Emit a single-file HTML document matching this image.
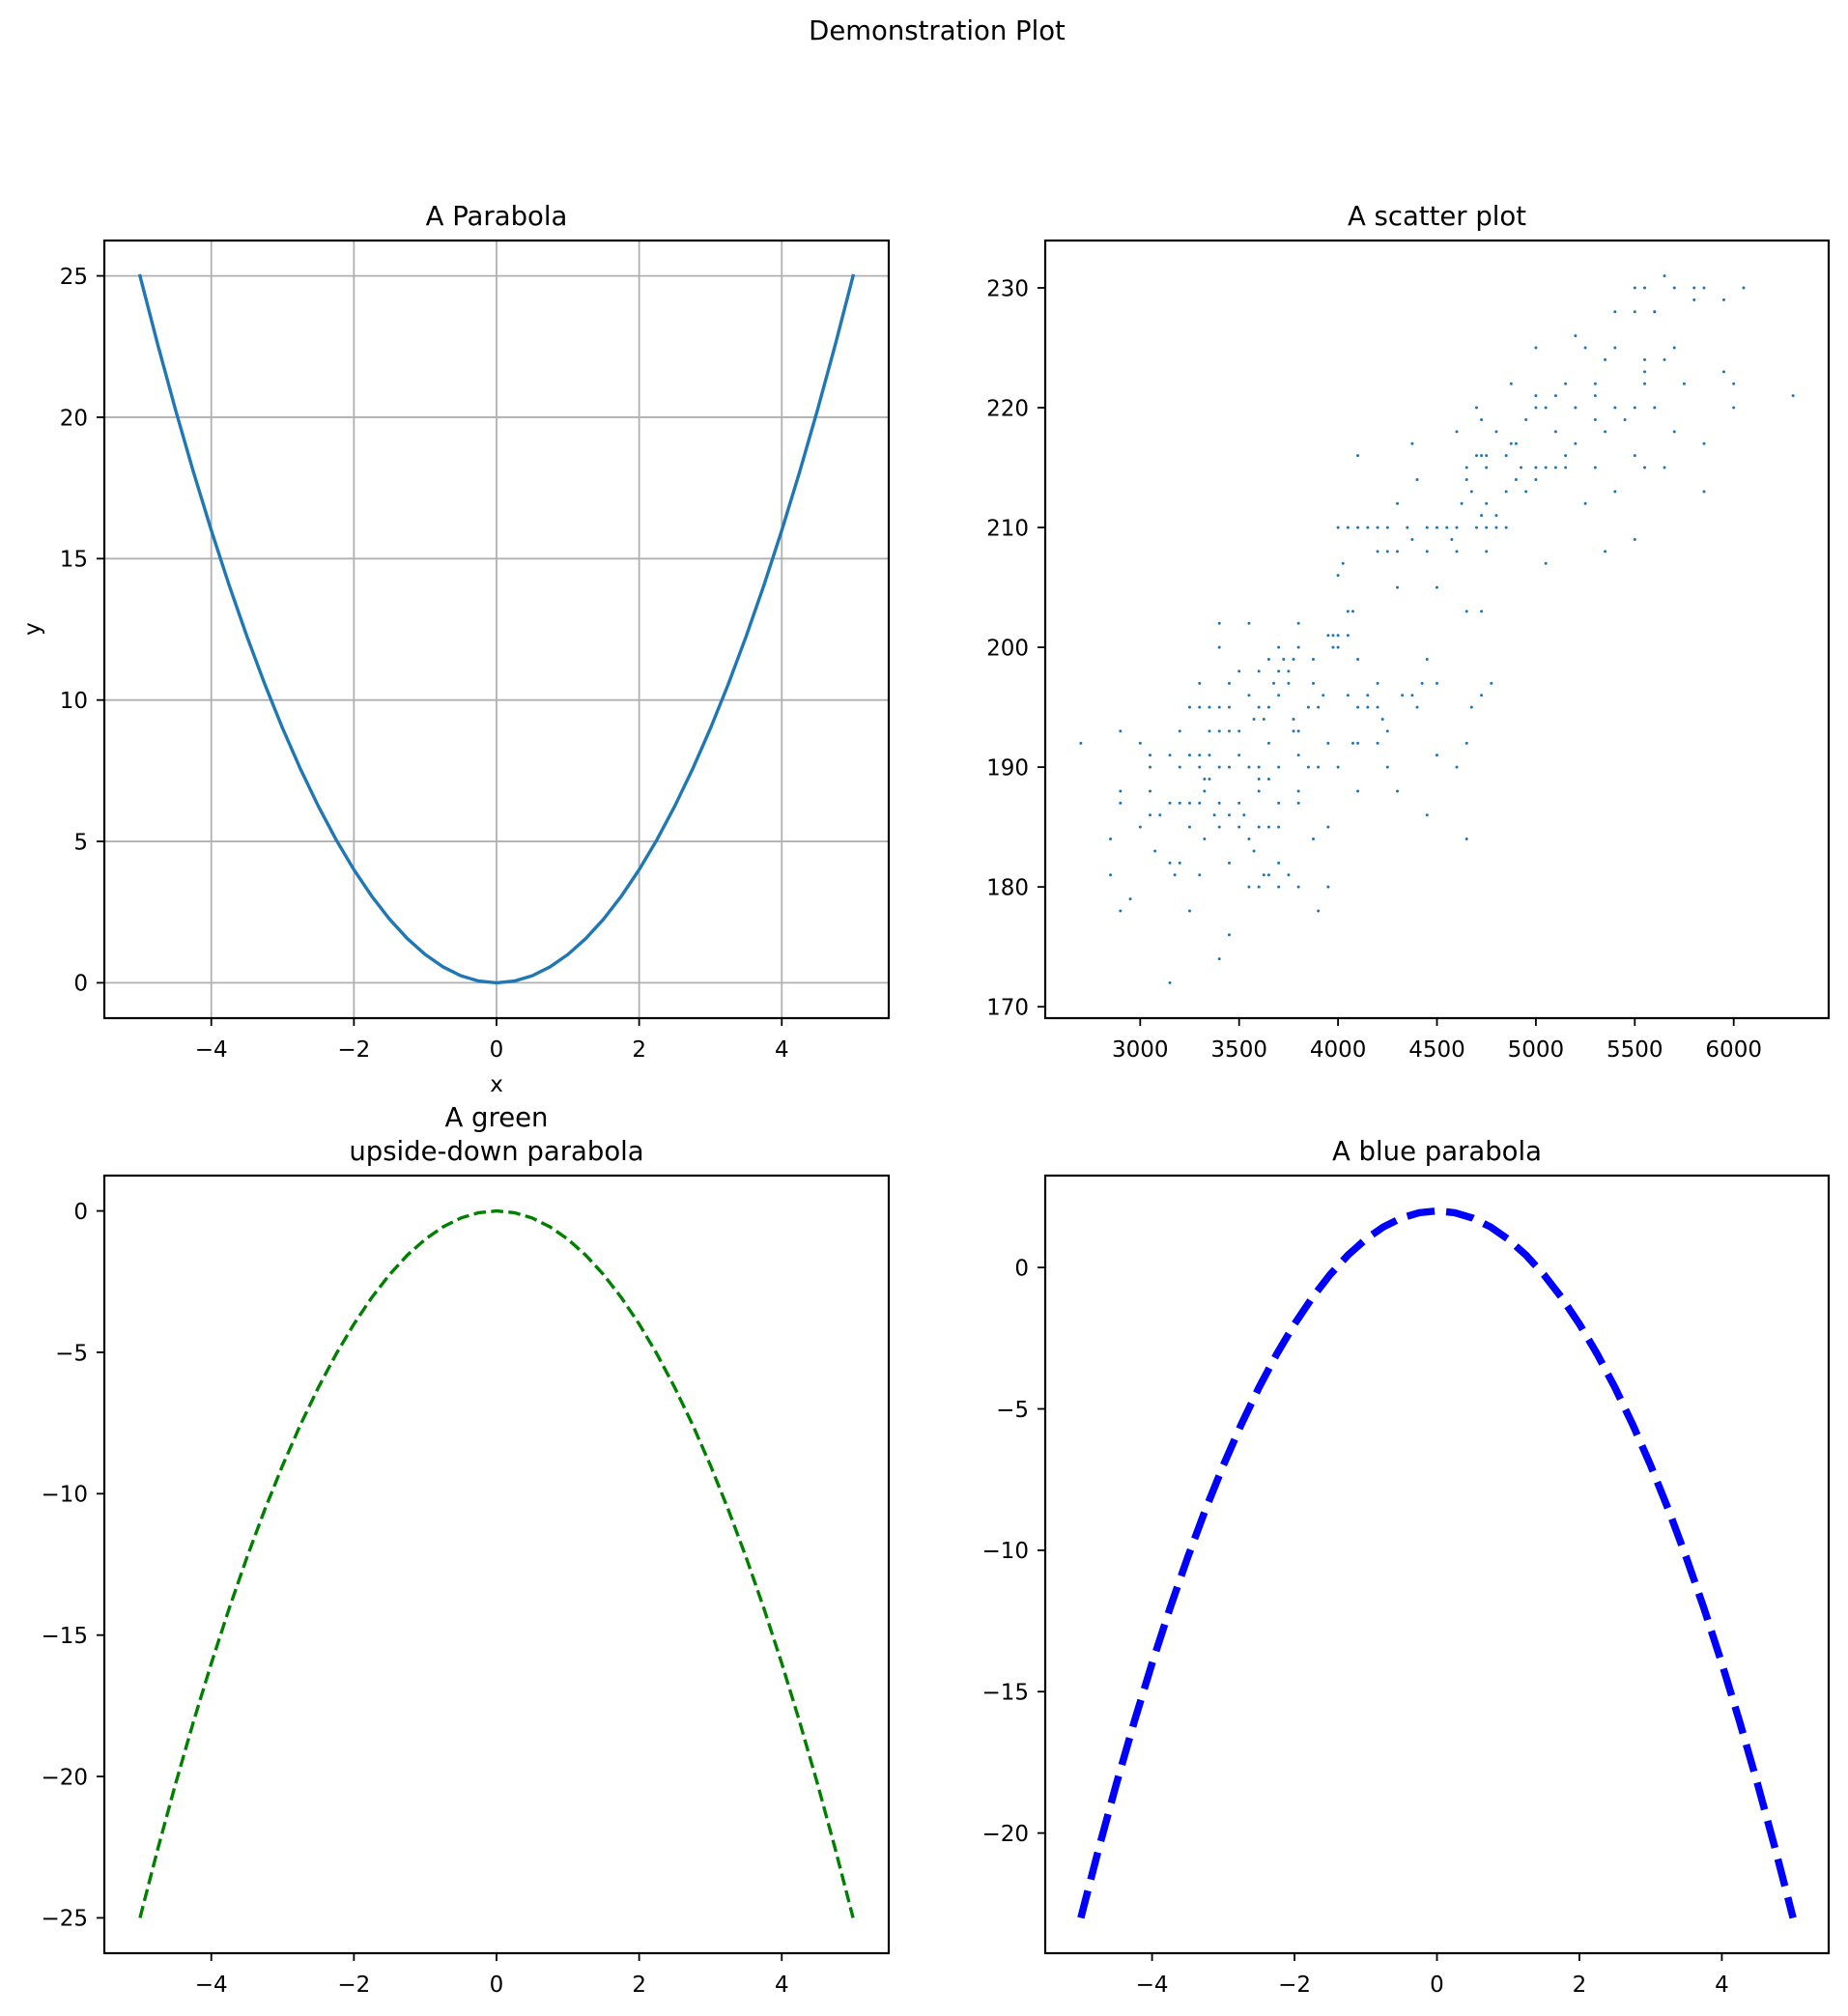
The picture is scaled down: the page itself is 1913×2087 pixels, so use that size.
<!DOCTYPE html>
<html><head><meta charset="utf-8">
<style>
html,body{margin:0;padding:0;background:#fff;}
svg{display:block;font-family:"DejaVu Sans","Liberation Sans",sans-serif;}
</style></head>
<body>
<svg id="fig" width="1913" height="2087" viewBox="0 0 1913 2087" xmlns="http://www.w3.org/2000/svg">
<rect width="1913" height="2087" fill="#fff"/>
<text x="970" y="41" font-size="27.5" text-anchor="middle">Demonstration Plot</text>
</svg>
<script>
// ---------- data ----------
const parabolaX = [-5,-4.75,-4.5,-4.25,-4,-3.75,-3.5,-3.25,-3,-2.75,-2.5,-2.25,-2,-1.75,-1.5,-1.25,-1,-0.75,-0.5,-0.25,0,0.25,0.5,0.75,1,1.25,1.5,1.75,2,2.25,2.5,2.75,3,3.25,3.5,3.75,4,4.25,4.5,4.75,5];
const parabolaY = [25,22.5625,20.25,18.0625,16,14.0625,12.25,10.5625,9,7.5625,6.25,5.0625,4,3.0625,2.25,1.5625,1,0.5625,0.25,0.0625,0,0.0625,0.25,0.5625,1,1.5625,2.25,3.0625,4,5.0625,6.25,7.5625,9,10.5625,12.25,14.0625,16,18.0625,20.25,22.5625,25];
const greenY = [-25,-22.5625,-20.25,-18.0625,-16,-14.0625,-12.25,-10.5625,-9,-7.5625,-6.25,-5.0625,-4,-3.0625,-2.25,-1.5625,-1,-0.5625,-0.25,-0.0625,0,-0.0625,-0.25,-0.5625,-1,-1.5625,-2.25,-3.0625,-4,-5.0625,-6.25,-7.5625,-9,-10.5625,-12.25,-14.0625,-16,-18.0625,-20.25,-22.5625,-25];
const blueY = [-23,-20.5625,-18.25,-16.0625,-14,-12.0625,-10.25,-8.5625,-7,-5.5625,-4.25,-3.0625,-2,-1.0625,-0.25,0.4375,1,1.4375,1.75,1.9375,2,1.9375,1.75,1.4375,1,0.4375,-0.25,-1.0625,-2,-3.0625,-4.25,-5.5625,-7,-8.5625,-10.25,-12.0625,-14,-16.0625,-18.25,-20.5625,-23];
const scatterX = [5650,5500,5550,5700,5800,5850,6050,5800,5950,5400,5500,5600,5600,5200,5000,5250,5400,5700,5350,5550,5650,5550,5950,4875,5300,5150,5550,5750,6000,5000,5100,5300,6300,4700,5000,5050,5200,5400,5500,5600,6000,4725,4950,5300,5450,4600,4800,5100,5350,5700,4375,4875,4900,5200,5850,4100,4700,4725,4750,4850,5150,5500,4650,4750,4925,5000,5050,5100,5150,5300,5550,5650,4400,4650,4900,5000,4675,4850,4950,5400,5850,4300,4625,4750,5250,4725,4800,4000,4050,4100,4150,4200,4250,4350,4450,4500,4550,4600,4700,4750,4800,4850,4375,4575,5500,4250,4200,4300,4450,4600,4750,5350,4025,5050,4000,4300,4500,4050,4075,4650,4725,3800,3400,3550,3950,4000,4050,3975,3400,3700,3800,3975,4000,3650,3725,3775,3875,4100,4450,3500,3700,3750,3600,3300,3450,3675,3750,3875,4200,4425,4500,4775,3550,3700,3925,4050,4150,4325,4375,4725,3250,3300,3350,3400,3450,3600,3650,3850,3900,4100,4150,4200,4400,4675,3575,3625,3775,4225,2900,3200,3350,3400,3450,3500,3775,3800,4250,2700,3000,3650,3950,4075,4100,4200,4650,3050,3150,3250,3300,3350,3500,3800,4500,3050,3200,3300,3400,3450,3550,3600,3700,3850,3900,4000,4250,4600,3325,3350,3600,3650,2900,3050,3325,3600,3800,4100,4300,2900,3150,3200,3250,3300,3400,3500,3700,3800,3050,3100,3375,3450,3525,4450,3000,3250,3400,3500,3600,3650,3700,3950,2850,3325,3550,3875,4650,3075,3575,3150,3200,3450,3700,2850,3175,3300,3625,3650,3750,3550,3600,3700,3800,3950,2950,2900,3250,3900,3450,3400,3150];
const scatterY = [231,230,230,230,230,230,230,229,229,228,228,228,228,226,225,225,225,225,224,224,224,223,223,222,222,222,222,222,222,221,221,221,221,220,220,220,220,220,220,220,220,219,219,219,219,218,218,218,218,218,217,217,217,217,217,216,216,216,216,216,216,216,215,215,215,215,215,215,215,215,215,215,214,214,214,214,213,213,213,213,213,212,212,212,212,211,211,210,210,210,210,210,210,210,210,210,210,210,210,210,210,210,209,209,209,208,208,208,208,208,208,208,207,207,206,205,205,203,203,203,203,202,202,202,201,201,201,201,200,200,200,200,200,199,199,199,199,199,199,198,198,198,198,197,197,197,197,197,197,197,197,197,196,196,196,196,196,196,196,196,195,195,195,195,195,195,195,195,195,195,195,195,195,195,194,194,194,194,193,193,193,193,193,193,193,193,193,192,192,192,192,192,192,192,192,191,191,191,191,191,191,191,191,190,190,190,190,190,190,190,190,190,190,190,190,190,189,189,189,189,188,188,188,188,188,188,188,187,187,187,187,187,187,187,187,187,186,186,186,186,186,186,185,185,185,185,185,185,185,185,184,184,184,184,184,183,183,182,182,182,182,181,181,181,181,181,181,180,180,180,180,180,179,178,178,178,176,174,172];
const parabolaXTicks = [-4,-2,0,2,4];
const parabolaYTicks = [0,5,10,15,20,25];
const scatterXTicks = [3000,3500,4000,4500,5000,5500,6000];
const scatterYTicks = [170,180,190,200,210,220,230];
const greenYTicks = [-25,-20,-15,-10,-5,0];
const blueYTicks = [-20,-15,-10,-5,0];

// ---------- drawing ----------
const NS = "http://www.w3.org/2000/svg";
const svg = document.getElementById("fig");
function mk(tag, attrs, parent){
  const e = document.createElementNS(NS, tag);
  for (const k in attrs) e.setAttribute(k, attrs[k]);
  (parent||svg).appendChild(e);
  return e;
}
function fmt(v){ return v < 0 ? "\u2212" + Math.abs(v) : String(v); }
function makeAxes(cfg){
  const g = mk("g", {});
  
  
  const sx = v => cfg.l + (v - cfg.x0) / (cfg.x1 - cfg.x0) * cfg.w;
  const sy = v => cfg.t + cfg.h - (v - cfg.y0) / (cfg.y1 - cfg.y0) * cfg.h;
  cfg.sx = sx; cfg.sy = sy; cfg.g = g;
  const b = cfg.t + cfg.h;
  if (cfg.grid){
    cfg.xt.forEach(v => {
      const l = mk("line", {x1:sx(v), x2:sx(v), y1:cfg.t, y2:b, stroke:"#b0b0b0", "stroke-width":1.8}, g);
      
      
    });
    cfg.yt.forEach(v => {
      const l = mk("line", {x1:cfg.l, x2:cfg.l+cfg.w, y1:sy(v), y2:sy(v), stroke:"#b0b0b0", "stroke-width":1.8}, g);
      
      
    });
  }
  cfg.xt.forEach(v => {
    const x = sx(v);
    const tk = mk("line", {x1:x, x2:x, y1:b, y2:b+8, stroke:"#000", "stroke-width":1.8}, g);
    
    
    const t = mk("text", {x:x, y:b+40, "font-size":23, "text-anchor":"middle"}, g);
    
    
    t.textContent = fmt(v);
  });
  cfg.yt.forEach(v => {
    const y = sy(v);
    const tk = mk("line", {x1:cfg.l-8, x2:cfg.l, y1:y, y2:y, stroke:"#000", "stroke-width":1.8}, g);
    
    
    const t = mk("text", {x:cfg.l-17, y:y+8.3, "font-size":23, "text-anchor":"end"}, g);
    
    
    t.textContent = fmt(v);
  });
  return cfg;
}
function frame(cfg){
  const r = mk("rect", {x:cfg.l, y:cfg.t, width:cfg.w, height:cfg.h, fill:"none", stroke:"#000", "stroke-width":2.2}, cfg.g);
  
  
}
function line(cfg, xs, ys, style, name){
  const d = xs.map((x,i)=>(i?"L":"M")+cfg.sx(x).toFixed(2)+","+cfg.sy(ys[i]).toFixed(2)).join("");
  const p = mk("path", Object.assign({d:d, fill:"none", "stroke-linejoin":"round"}, style), cfg.g);
  
  
}
function title(cfg, lines, name){
  lines.forEach((s,i)=>{
    const t = mk("text", {x:cfg.l+cfg.w/2, y:cfg.t-16-(lines.length-1-i)*35, "font-size":27.5, "text-anchor":"middle"}, cfg.g);
    
    
    t.textContent = s;
  });
}

// Top-left
const a1 = makeAxes({name:"parabola-axes", l:108, t:249, w:812, h:805, x0:-5.5, x1:5.5, y0:-1.25, y1:26.25, xt:parabolaXTicks, yt:parabolaYTicks, grid:true});
line(a1, parabolaX, parabolaY, {stroke:"#1f77b4", "stroke-width":3.4, "stroke-linecap":"square"}, "parabola-line");
frame(a1);
title(a1, ["A Parabola"], "parabola-title");
const xl = mk("text", {x:514, y:1130, "font-size":23, "text-anchor":"middle"}, a1.g);


xl.textContent = "x";
const yl = mk("text", {x:0, y:0, "font-size":23, "text-anchor":"middle", transform:"translate(41,651) rotate(-90)"}, a1.g);


yl.textContent = "y";

// Top-right scatter
const a2 = makeAxes({name:"scatter-axes", l:1082, t:249, w:811, h:805, x0:2520, x1:6480, y0:169.05, y1:233.95, xt:scatterXTicks, yt:scatterYTicks, grid:false});
scatterX.forEach((x,i)=>{
  const c = mk("circle", {cx:a2.sx(x).toFixed(2), cy:a2.sy(scatterY[i]).toFixed(2), r:1.5, fill:"#1f77b4"}, a2.g);
  
  
});
frame(a2);
title(a2, ["A scatter plot"], "scatter-title");

// Bottom-left
const a3 = makeAxes({name:"green-parabola-axes", l:108, t:1217, w:812, h:805, x0:-5.5, x1:5.5, y0:-26.25, y1:1.25, xt:parabolaXTicks, yt:greenYTicks, grid:false});
line(a3, parabolaX, greenY, {stroke:"#008000", "stroke-width":3.4, "stroke-dasharray":"12.6,5.4"}, "green-dashed-line");
frame(a3);
title(a3, ["A green","upside-down parabola"], "green-parabola-title");

// Bottom-right
const a4 = makeAxes({name:"blue-parabola-axes", l:1082, t:1217, w:811, h:805, x0:-5.5, x1:5.5, y0:-24.25, y1:3.25, xt:parabolaXTicks, yt:blueYTicks, grid:false});
line(a4, parabolaX, blueY, {stroke:"#0000ff", "stroke-width":7.5, "stroke-dasharray":"29,12"}, "blue-dashed-line");
frame(a4);
title(a4, ["A blue parabola"], "blue-parabola-title");
</script>
</body></html>
